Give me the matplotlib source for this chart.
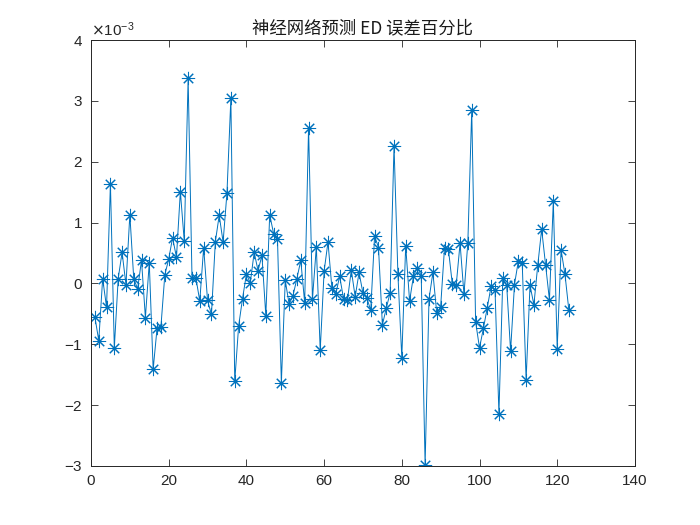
import matplotlib
matplotlib.use("Agg")
import matplotlib.pyplot as plt
from matplotlib.ticker import ScalarFormatter, MultipleLocator

plt.rcParams['font.family'] = ['Liberation Sans', 'Noto Sans CJK SC', 'DejaVu Sans']

# error values (units of 1e-3), index 1..123
err_e3 = [
    -0.55, -0.94, 0.08, -0.39, 1.64, -1.06, 0.08, 0.51, -0.02, 1.13,
    0.08, -0.09, 0.38, -0.56, 0.34, -1.41, -0.74, -0.71, 0.14, 0.40,
    0.75, 0.43, 1.51, 0.70, 3.37, 0.09, 0.09, -0.29, 0.59, -0.28,
    -0.51, 0.68, 1.12, 0.68, 1.49, 3.04, -1.61, -0.70, -0.25, 0.15,
    0.01, 0.51, 0.21, 0.46, -0.53, 1.13, 0.82, 0.73, -1.63, 0.05,
    -0.34, -0.20, 0.08, 0.38, -0.32, 2.56, -0.26, 0.60, -1.10, 0.20,
    0.68, -0.07, -0.18, 0.12, -0.25, -0.28, 0.22, -0.22, 0.18, -0.16,
    -0.24, -0.44, 0.78, 0.59, -0.68, -0.41, -0.15, 2.26, 0.15, -1.22,
    0.62, -0.29, 0.12, 0.26, 0.13, -2.98, -0.26, 0.18, -0.49, -0.38,
    0.59, 0.56, -0.01, -0.03, 0.66, -0.18, 0.67, 2.85, -0.63, -1.06,
    -0.74, -0.40, -0.04, -0.11, -2.14, 0.09, -0.03, -1.11, -0.02, 0.37,
    0.33, -1.58, -0.03, -0.35, 0.30, 0.89, 0.31, -0.27, 1.35, -1.07,
    0.55, 0.15, -0.44,
]
err = [v * 1e-3 for v in err_e3]
idx = list(range(1, len(err) + 1))

title = '神经网络预测 ED 误差百分比'
axcol = '#262626'

fig = plt.figure(figsize=(7, 5.25), dpi=100)
ax = fig.add_axes([0.13, 0.1124, 0.777, 0.8114])
ax.plot(idx, err, color='#0072BD', linewidth=0.7, marker=(8, 2, 0),
        markersize=9.5, markeredgewidth=0.75)

ax.set_xlim(0, 140)
ax.set_ylim(-3e-3, 4e-3)
ax.xaxis.set_major_locator(MultipleLocator(20))
ax.yaxis.set_major_locator(MultipleLocator(1e-3))
fmt = ScalarFormatter(useMathText=True)
fmt.set_powerlimits((-2, 2))
ax.yaxis.set_major_formatter(fmt)

ax.tick_params(direction='in', length=5, width=0.6, colors=axcol,
               labelsize=11, top=True, right=True, pad=6)
for s in ax.spines.values():
    s.set_color(axcol)
    s.set_linewidth(0.7)
ax.yaxis.get_offset_text().set_fontsize(11)
ax.yaxis.get_offset_text().set_color(axcol)

ax.set_title(title, fontsize=12.5, color='#1a1a1a',
             family=['Noto Sans CJK SC', 'DejaVu Sans'], pad=5)

fig.savefig('out.png', dpi=100)
